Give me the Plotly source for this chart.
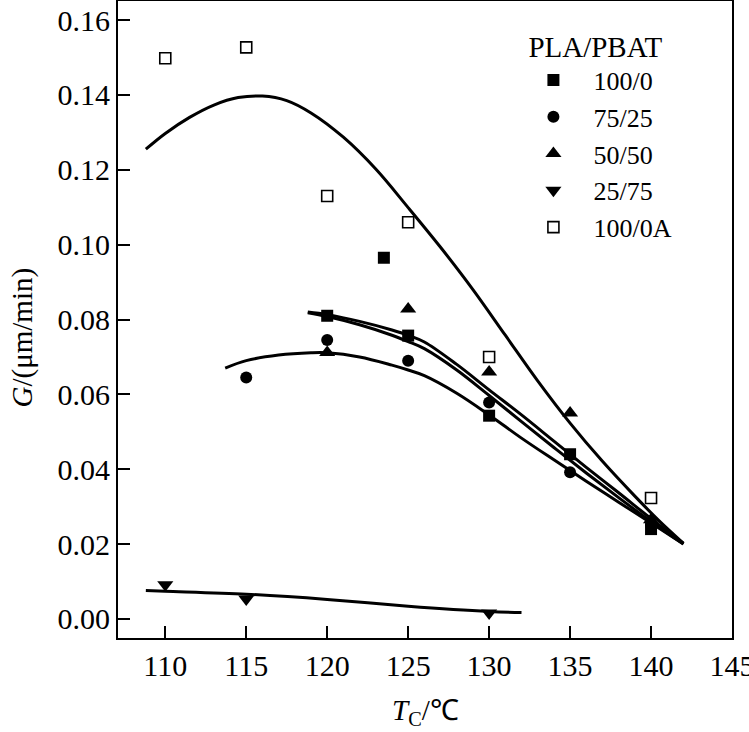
import plotly.graph_objects as go

# ---- data ----
series_names = ["100/0", "75/25", "50/50", "25/75", "100/0A"]
series_symbols = ["square", "circle", "triangle-up", "triangle-down", "square-open"]

x_100_0 = [120, 123.5, 125, 130, 135, 140]
y_100_0 = [0.0810, 0.0965, 0.0757, 0.0543, 0.0440, 0.0240]

x_75_25 = [115, 120, 125, 130, 135, 140]
y_75_25 = [0.0645, 0.0745, 0.0690, 0.0578, 0.0392, 0.0250]

x_50_50 = [120, 125, 130, 135, 140]
y_50_50 = [0.0712, 0.0828, 0.0660, 0.0550, 0.0265]

x_25_75 = [110, 115, 130]
y_25_75 = [0.0091, 0.0053, 0.0016]

x_100_0A = [110, 115, 120, 125, 130, 140]
y_100_0A = [0.1498, 0.1527, 0.1130, 0.1060, 0.0700, 0.0323]

# fitted curves
fitA_x = [118.8, 120, 122, 124, 125, 126, 128, 130, 132, 134, 136, 138, 140, 142]
fitA_y = [0.0820, 0.0813, 0.0795, 0.0772, 0.0758, 0.0740, 0.0680, 0.0612, 0.0545, 0.0475, 0.0405, 0.0337, 0.0268, 0.0202]

fitB_x = [118.8, 120, 122, 124, 125, 126, 128, 130, 132, 134, 136, 138, 140, 142]
fitB_y = [0.0818, 0.0808, 0.0786, 0.0758, 0.0741, 0.0722, 0.0665, 0.0597, 0.0527, 0.0458, 0.0390, 0.0324, 0.0260, 0.0200]

fitC_x = [113.7, 115, 117, 119, 120, 122, 124, 125, 126, 128, 130, 132, 134, 136, 138, 140, 142]
fitC_y = [0.0670, 0.0690, 0.0705, 0.0711, 0.0711, 0.0700, 0.0678, 0.0665, 0.0650, 0.0603, 0.0545, 0.0483, 0.0425, 0.0368, 0.0312, 0.0256, 0.0200]

fitD_x = [108.8, 110, 111.5, 113, 114.5, 116, 117.5, 119, 121, 123, 125, 127, 129, 131, 133, 135, 137, 139, 140.5, 142]
fitD_y = [0.1255, 0.1297, 0.1340, 0.1373, 0.1393, 0.1397, 0.1385, 0.1352, 0.1287, 0.1202, 0.1099, 0.0993, 0.0880, 0.0758, 0.0636, 0.0523, 0.0421, 0.0328, 0.0262, 0.0202]

fitE_x = [108.8, 110, 115, 120, 125, 130, 132]
fitE_y = [0.0076, 0.0074, 0.0066, 0.0052, 0.0034, 0.0020, 0.0017]

x_ticks = [110, 115, 120, 125, 130, 135, 140, 145]
y_ticks = [0.00, 0.02, 0.04, 0.06, 0.08, 0.10, 0.12, 0.14, 0.16]
y_tick_labels = ["0.00", "0.02", "0.04", "0.06", "0.08", "0.10", "0.12", "0.14", "0.16"]

FONT = "Liberation Serif"

fig = go.Figure()

for fx, fy in [(fitA_x, fitA_y), (fitB_x, fitB_y), (fitC_x, fitC_y), (fitD_x, fitD_y), (fitE_x, fitE_y)]:
    fig.add_trace(go.Scatter(x=fx, y=fy, mode="lines", showlegend=False, hoverinfo="skip",
                             line=dict(color="black", width=3, shape="spline", smoothing=1.0)))

all_x = [x_100_0, x_75_25, x_50_50, x_25_75, x_100_0A]
all_y = [y_100_0, y_75_25, y_50_50, y_25_75, y_100_0A]
sizes = [12, 12, 14, 14, 11]
for i, (name, sym) in enumerate(zip(series_names, series_symbols)):
    fig.add_trace(go.Scatter(
        x=all_x[i], y=all_y[i], mode="markers", name=name, legendgroup=name,
        marker=dict(symbol=sym, size=sizes[i], color="black",
                    line=dict(color="black", width=1.6 if sym.endswith("open") else 0))))

axis_common = dict(showline=True, linecolor="black", linewidth=2, mirror=True,
                   ticks="inside", ticklen=12, tickwidth=2, tickcolor="black",
                   showgrid=False, zeroline=False, automargin=False,
                   ticklabeloverflow="allow",
                   tickfont=dict(family=FONT, size=30, color="black"))

fig.update_xaxes(range=[107.08, 145], tickvals=x_ticks, **axis_common)
fig.update_yaxes(range=[-0.0051, 0.1651], tickvals=y_ticks, ticktext=y_tick_labels, **axis_common)

fig.update_layout(
    template="none",
    font=dict(family=FONT, color="black"),
    width=749, height=732,
    margin=dict(l=118, r=17, t=1, b=94),
    plot_bgcolor="white", paper_bgcolor="white",
    showlegend=True,
    legend=dict(x=0.644, y=0.972, xanchor="left", yanchor="top",
                bgcolor="rgba(0,0,0,0)", borderwidth=0,
                font=dict(family=FONT, size=26, color="black"),
                title=dict(text="PLA/PBAT", side="top center", font=dict(family=FONT, size=29, color="black")),
                itemwidth=70, tracegroupgap=0),
    annotations=[
        dict(text="<i>G</i>/(μm/min)", xref="paper", yref="paper", x=0, y=0.5, xshift=-96, yshift=-18,
             xanchor="center", yanchor="middle",
             textangle=-90, showarrow=False, font=dict(family=FONT, size=29, color="black")),
        dict(text="<i>T</i><sub>C</sub>/℃", xref="paper", yref="paper", x=0.5, y=0, yshift=-74,
             xanchor="center", yanchor="middle",
             showarrow=False, font=dict(family=FONT, size=29, color="black")),
    ],
)

fig.write_html("out.html",
               config={"displayModeBar": False, "staticPlot": True},
               post_script="document.body.style.margin='0';document.body.style.overflow='hidden';")
